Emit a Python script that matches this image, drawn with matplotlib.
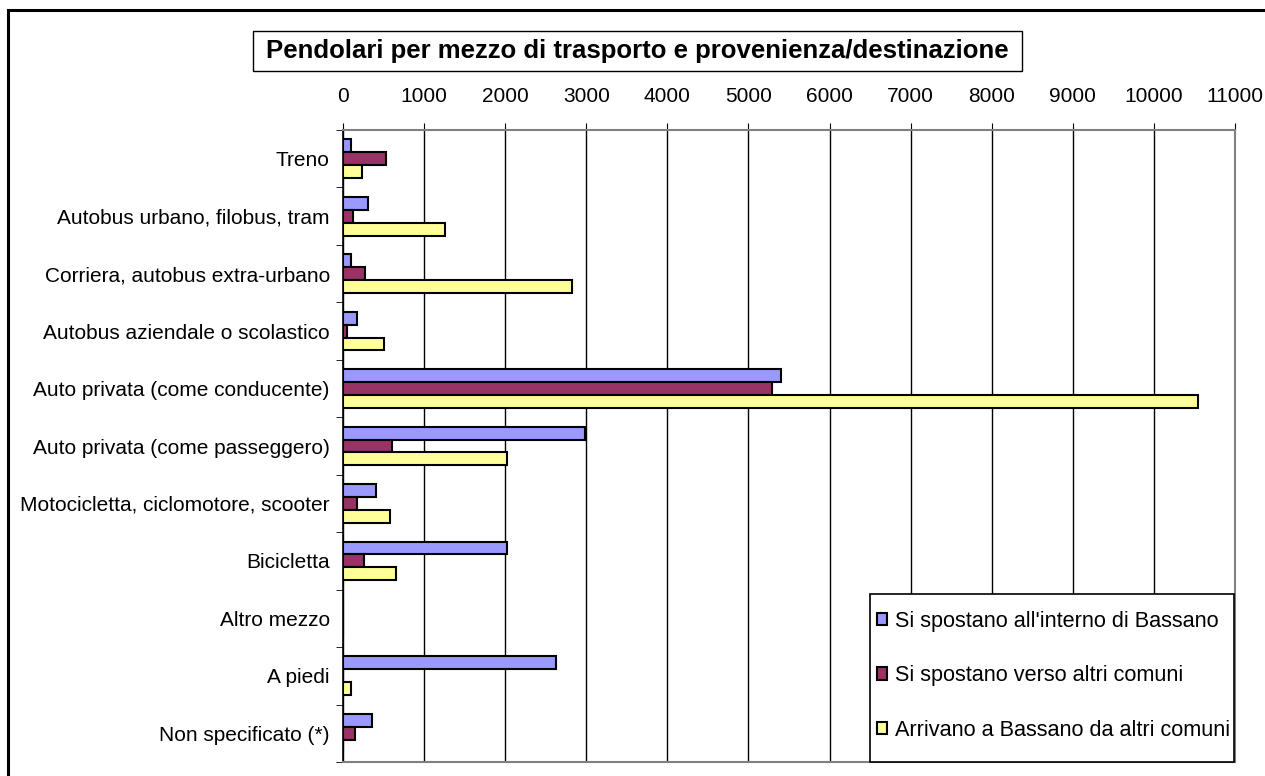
import numpy as np
import matplotlib
matplotlib.use("Agg")
import matplotlib.pyplot as plt
from matplotlib.patches import Rectangle

plt.rcParams['font.family'] = ['Liberation Sans', 'DejaVu Sans']

# mezzi di trasporto (dall'alto in basso)
categorie = ["Treno", "Autobus urbano, filobus, tram", "Corriera, autobus extra-urbano",
             "Autobus aziendale o scolastico", "Auto privata (come conducente)",
             "Auto privata (come passeggero)", "Motocicletta, ciclomotore, scooter",
             "Bicicletta", "Altro mezzo", "A piedi", "Non specificato (*)"]

interno = [95, 308, 95, 172, 5406, 2980, 411, 2020, 0, 2623, 362]
verso_altri = [535, 123, 267, 49, 5288, 600, 172, 263, 0, 0, 148]
arrivano = [240, 1252, 2820, 505, 10538, 2020, 579, 653, 0, 99, 0]

serie = [
    ("Si spostano all'interno di Bassano", interno, "#9999FF"),
    ("Si spostano verso altri comuni", verso_altri, "#993366"),
    ("Arrivano a Bassano da altri comuni", arrivano, "#FFFF99"),
]
xticks = list(range(0, 11001, 1000))

W, H = 1265, 776
fig = plt.figure(figsize=(W / 100, H / 100), dpi=100)

# cornice esterna del grafico
fig.patches.append(Rectangle((8 / W, -0.1), 1.2, 0.1 + 1 - 10 / H,
                             transform=fig.transFigure, fill=False,
                             edgecolor="black", linewidth=2.2, zorder=0))

ax = fig.add_axes([343 / W, 1 - 762 / H, 892 / W, 632 / H])

y = np.arange(len(categorie))
h = 0.225
for i, (nome, valori, colore) in enumerate(serie):
    ax.barh(y - h + i * h, valori, height=h, color=colore, edgecolor="black",
            linewidth=1.5, label=nome, zorder=3)

ax.set_xlim(0, 11000)
ax.set_ylim(len(categorie) - 0.5, -0.5)
ax.set_xticks(xticks)
ax.set_xticklabels([str(t) for t in xticks])
ax.xaxis.tick_top()
ax.tick_params(axis="x", direction="out", length=5, pad=12, labelsize=15,
               color="black")
ax.grid(axis="x", color="black", linewidth=1.0, zorder=1)

ax.set_yticks(y)
ax.set_yticklabels(categorie)
ax.set_yticks(np.arange(-0.5, len(categorie)), minor=True)
ax.tick_params(axis="y", which="major", length=0, pad=9.5, labelsize=15)
ax.tick_params(axis="y", which="minor", length=5, direction="out", color="black")

ax.spines["left"].set_color("black")
ax.spines["left"].set_linewidth(1.2)
for s in ("top", "right", "bottom"):
    ax.spines[s].set_color("#808080")
    ax.spines[s].set_linewidth(1.5)

# riquadro della legenda
ax.add_patch(Rectangle(((870 - 343) / 892, 0), (1234 - 870) / 892, (762 - 594) / 632,
                       transform=ax.transAxes, facecolor="white", edgecolor="black",
                       linewidth=1.2, clip_on=False, zorder=4))
leg = ax.legend(loc="upper left", bbox_to_anchor=(870 / W, 1 - 604 / H),
                bbox_transform=fig.transFigure, borderaxespad=0, borderpad=0.3,
                fontsize=15.6, frameon=False, labelspacing=1.55,
                handlelength=0.5, handleheight=0.5, handletextpad=0.35)
leg.set_zorder(5)

# titolo nel riquadro
fig.patches.append(Rectangle((253 / W, 1 - 71 / H), 769 / W, 40 / H,
                             transform=fig.transFigure, facecolor="white",
                             edgecolor="black", linewidth=1.0))
fig.text(637.5 / W, 1 - 51 / H,
         "Pendolari per mezzo di trasporto e provenienza/destinazione",
         ha="center", va="center", fontsize=18.5, fontweight="bold")

fig.savefig("out.png", dpi=100)
